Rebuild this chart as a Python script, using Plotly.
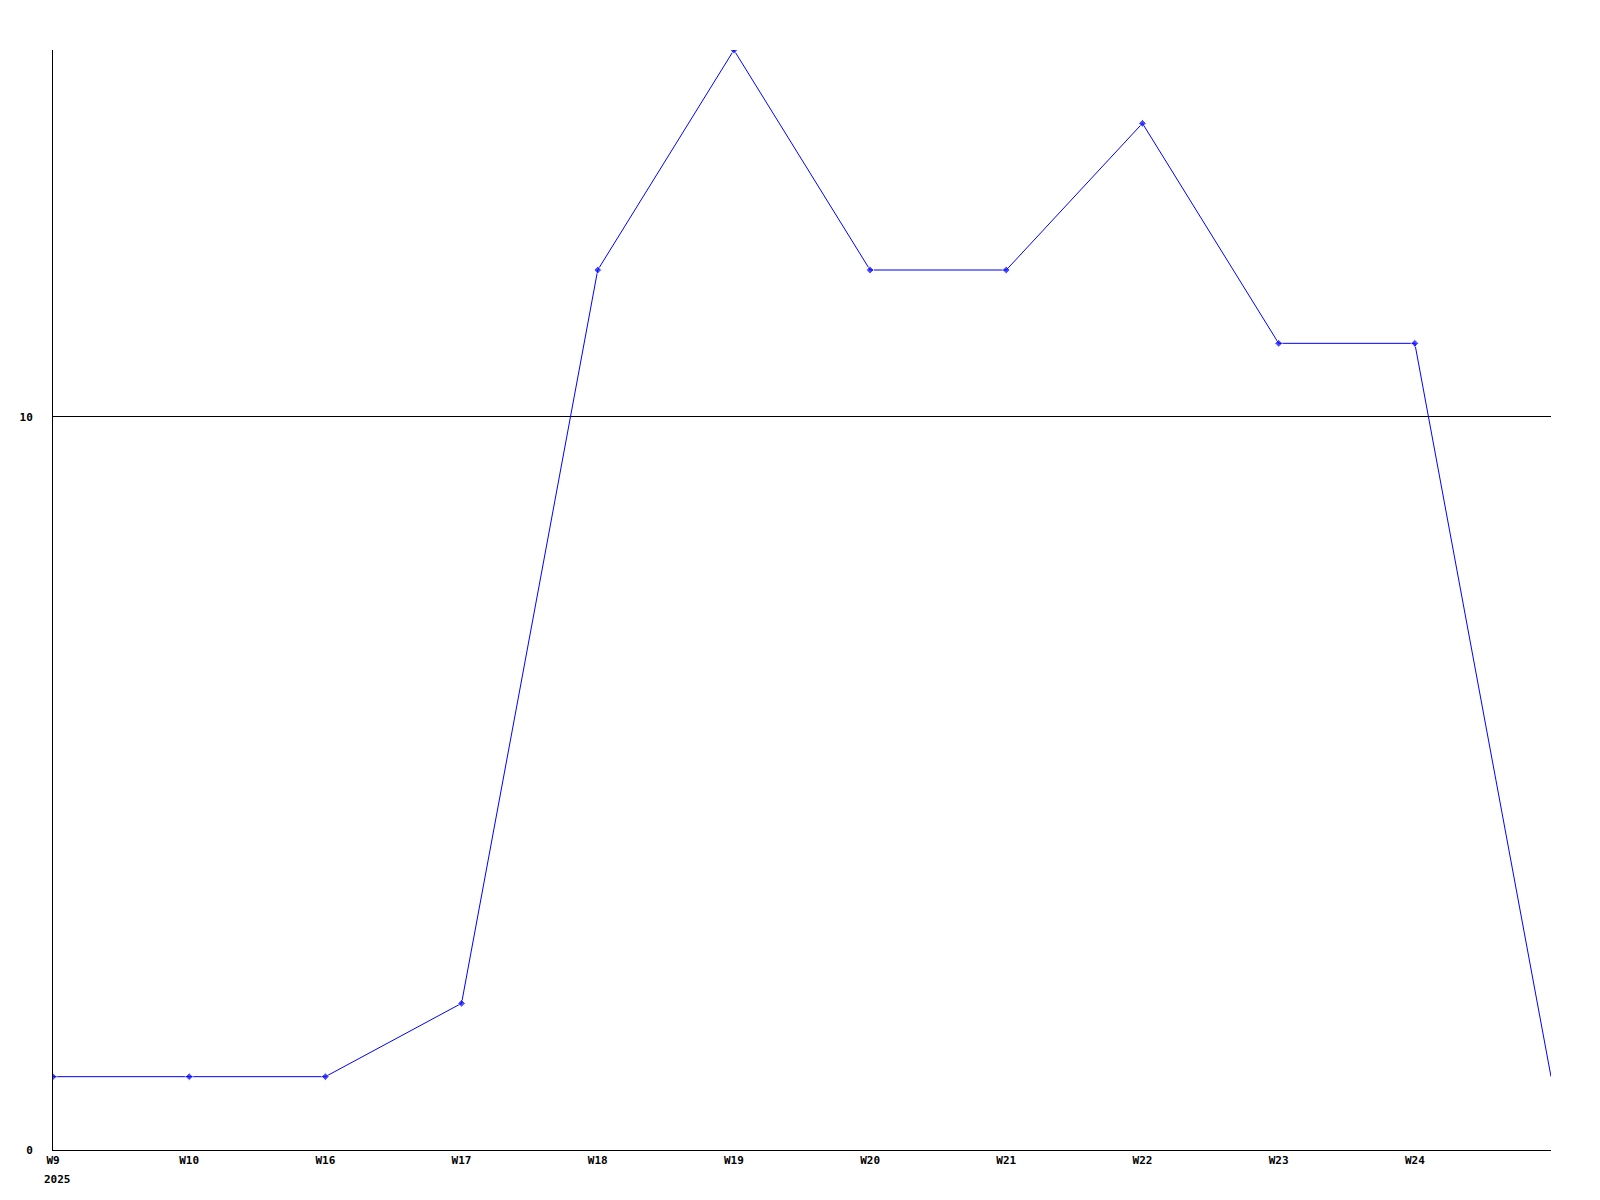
import plotly.graph_objects as go

# ===== DATOS =====
weeks = ["W9", "W10", "W16", "W17", "W18", "W19", "W20", "W21", "W22", "W23", "W24", ""]
values = [1, 1, 1, 2, 12, 15, 12, 12, 14, 11, 11, 1]
y_ticks = [0, 10]
year_label = "2025"

FONT = dict(family="DejaVu Sans Mono", size=11, color="#000000", weight="bold")

x_pos = list(range(len(weeks)))
# el último punto no lleva marcador
marker_sizes = [6] * (len(values) - 1) + [0]

fig = go.Figure()
fig.add_trace(go.Scatter(
    x=x_pos,
    y=values,
    mode="lines+markers",
    line=dict(color="#0000ff", width=1),
    marker=dict(color="#0000ff", size=marker_sizes, symbol="diamond"),
    showlegend=False,
    hoverinfo="x+y",
))

# el body de la página añade 8px, se descuenta en los márgenes
fig.update_layout(
    width=1600,
    height=1200,
    margin=dict(l=42, r=57, t=42, b=58),
    paper_bgcolor="white",
    plot_bgcolor="white",
    font=FONT,
    xaxis=dict(
        range=[0, len(weeks) - 1],
        tickmode="array",
        tickvals=x_pos[:-1],
        ticktext=weeks[:-1],
        showgrid=False,
        zeroline=False,
        showline=True,
        linecolor="#000000",
        linewidth=1,
        ticks="",
        tickfont=FONT,
    ),
    yaxis=dict(
        range=[0, 15],
        tickmode="array",
        tickvals=y_ticks,
        showgrid=True,
        gridcolor="#000000",
        gridwidth=1,
        zeroline=False,
        showline=True,
        linecolor="#000000",
        linewidth=1,
        ticks="",
        ticklabelstandoff=17,
        tickfont=FONT,
    ),
    annotations=[dict(
        text=year_label,
        x=0, y=0,
        xref="x", yref="paper",
        xanchor="left", yanchor="top",
        xshift=-11, yshift=-21,
        showarrow=False,
        font=FONT,
    )],
)

fig.write_html("out.html")
